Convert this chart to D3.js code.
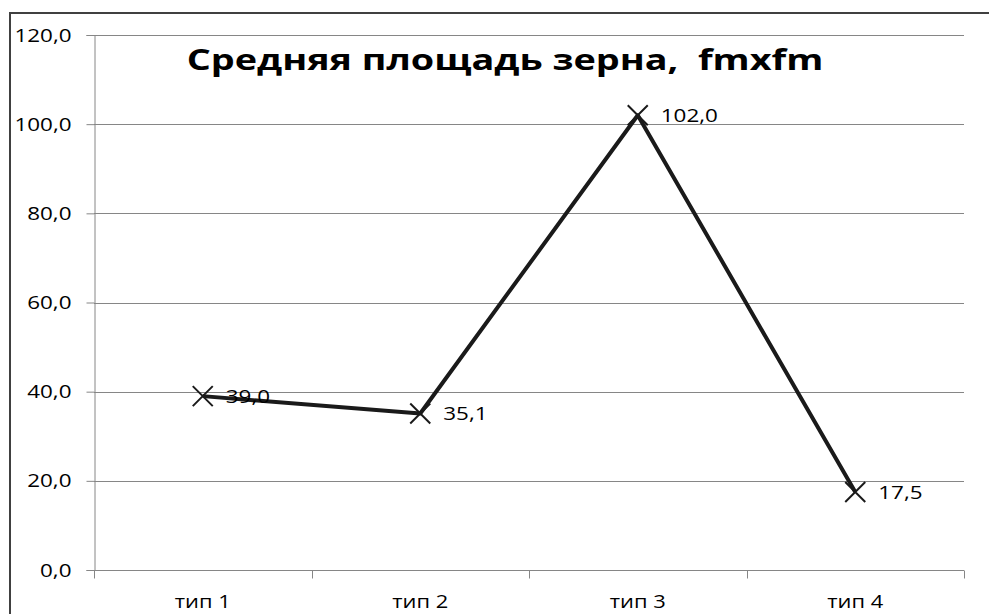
<!DOCTYPE html>
<html>
<head>
<meta charset="utf-8">
<script src="https://cdn.jsdelivr.net/npm/d3@7/dist/d3.min.js"></script>
<style>
  html, body { margin: 0; padding: 0; background: #fff; }
  svg { display: block; }
  text { font-family: "Open Sans", "Noto Sans", sans-serif; fill: #000; white-space: pre; }
</style>
</head>
<body>
<script>
// Chart data
const categories = ["тип 1", "тип 2", "тип 3", "тип 4"];
const values = [39.0, 35.1, 102.0, 17.5];
const yTicks = [0, 20, 40, 60, 80, 100, 120];
const title = "Средняя площадь зерна,  fmxfm";

const W = 989, H = 614;
const plot = { left: 94, right: 964, top: 35, bottom: 570 };

const svg = d3.select("body").append("svg")
  .attr("width", W).attr("height", H);

// widen glyphs horizontally by a factor, keeping the anchor point
function stretch(sel, k) {
  sel.each(function () {
    const len = this.getComputedTextLength();
    d3.select(this).attr("textLength", len * k).attr("lengthAdjust", "spacingAndGlyphs");
  });
}

// outer chart frame (extends past the right and bottom edges)
svg.append("rect")
  .attr("x", 10).attr("y", 13)
  .attr("width", W + 20).attr("height", H + 20)
  .attr("fill", "#fff")
  .attr("stroke", "#404040").attr("stroke-width", 2);

const x = d3.scaleBand().domain(categories)
  .range([plot.left, plot.right]).paddingInner(0).paddingOuter(0);
const y = d3.scaleLinear().domain([0, 120]).range([plot.bottom, plot.top]);

const fmt = v => d3.format(".1f")(v).replace(".", ",");

// horizontal gridlines
svg.append("g").selectAll("line").data(yTicks.filter(t => t > 0)).join("line")
  .attr("x1", plot.left).attr("x2", plot.right)
  .attr("y1", d => Math.round(y(d)) + 0.5).attr("y2", d => Math.round(y(d)) + 0.5)
  .attr("stroke", "#868686").attr("stroke-width", 1);

// y axis
const yAxis = svg.append("g")
  .attr("transform", `translate(${plot.left + 0.5},0)`)
  .call(d3.axisLeft(y).tickValues(yTicks).tickFormat(fmt).tickSize(8).tickPadding(15));
yAxis.select(".domain").attr("stroke", "#868686");
yAxis.selectAll(".tick line").attr("stroke", "#868686");
yAxis.selectAll(".tick text")
  .attr("font-size", 19).attr("fill", "#000")
  .style("font-family", '"Open Sans", sans-serif')
  .call(stretch, 1.18);

// x axis with tick marks at band boundaries
const xAxisG = svg.append("g")
  .attr("transform", `translate(0,${Math.round(y(0)) + 0.5})`);
xAxisG.append("line")
  .attr("x1", plot.left).attr("x2", plot.right)
  .attr("stroke", "#868686");
const bounds = categories.map(c => x(c)).concat([x.range()[1]]);
xAxisG.selectAll("line.tk").data(bounds).join("line")
  .attr("class", "tk")
  .attr("x1", d => Math.round(d) + 0.5).attr("x2", d => Math.round(d) + 0.5)
  .attr("y1", 0).attr("y2", 8)
  .attr("stroke", "#868686");
xAxisG.selectAll("text").data(categories).join("text")
  .attr("x", d => x(d) + x.bandwidth() / 2)
  .attr("y", 37)
  .attr("text-anchor", "middle")
  .attr("font-size", 19)
  .text(d => d)
  .call(stretch, 1.15);

// title
svg.append("text")
  .attr("x", 505).attr("y", 70)
  .attr("text-anchor", "middle")
  .attr("font-size", 28).attr("font-weight", "bold")
  .text(title)
  .call(stretch, 1.35);

// series line
const cx = d => x(d.c) + x.bandwidth() / 2;
const pts = categories.map((c, i) => ({ c, v: values[i] }));
svg.append("path")
  .datum(pts)
  .attr("fill", "none")
  .attr("stroke", "#1a1a1a").attr("stroke-width", 4)
  .attr("stroke-linejoin", "round")
  .attr("d", d3.line().x(cx).y(d => y(d.v)));

// X markers
const m = 10;
svg.append("g").selectAll("path").data(pts).join("path")
  .attr("d", d => {
    const px = cx(d), py = y(d.v);
    return `M${px - m},${py - m}L${px + m},${py + m}M${px - m},${py + m}L${px + m},${py - m}`;
  })
  .attr("stroke", "#1a1a1a").attr("stroke-width", 2).attr("fill", "none");

// data labels
svg.append("g").selectAll("text").data(pts).join("text")
  .attr("x", d => cx(d) + 23)
  .attr("y", d => y(d.v))
  .attr("dy", "0.35em")
  .attr("font-size", 19)
  .text(d => fmt(d.v))
  .call(stretch, 1.18);
</script>
</body>
</html>
